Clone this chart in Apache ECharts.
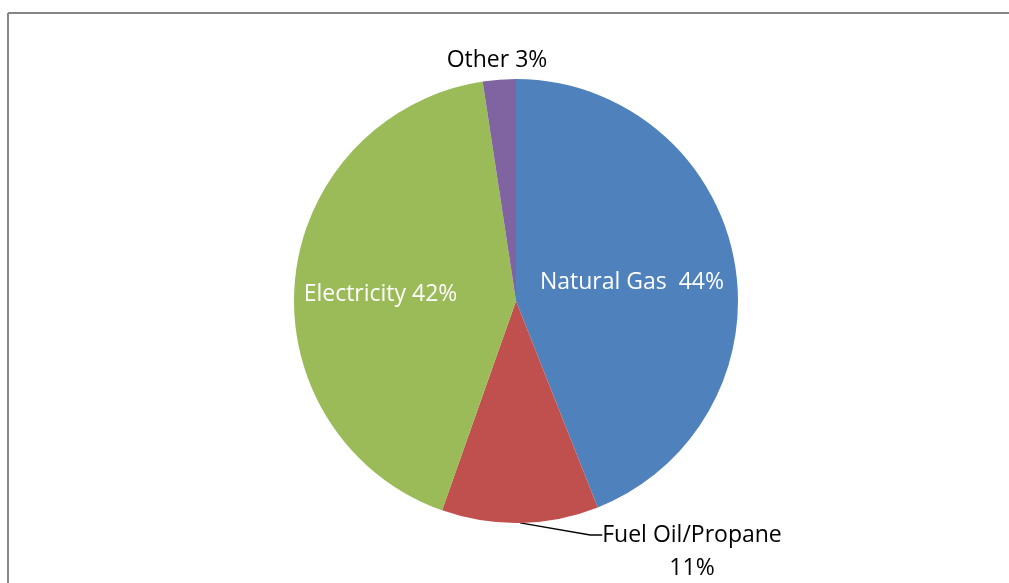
<!DOCTYPE html>
<html>
<head>
<meta charset="utf-8">
<script src="https://cdn.jsdelivr.net/npm/echarts@6/dist/echarts.min.js"></script>
<style>
html, body { margin: 0; padding: 0; background: #fff; }
#chart { width: 1009px; height: 583px; }
</style>
</head>
<body>
<div id="chart"></div>
<script>
// data (slice shares in %, clockwise from 12 o'clock)
const categories = ['Natural Gas', 'Fuel Oil/Propane', 'Electricity', 'Other']
const values = [44.0, 11.4, 42.2, 2.4]
const pctLabels = ['44%', '11%', '42%', '3%']
const colors = ['#4F81BD', '#C0504D', '#9BBB59', '#8064A2']

const font = '"Open Sans", sans-serif'

const chart = echarts.init(document.getElementById('chart'))

const seriesData = categories.map((name, i) => {
  const item = { name: name, value: values[i], itemStyle: { color: colors[i] } }
  if (i === 0 || i === 2) {
    item.label = {
      position: 'inside',
      color: '#fff',
      offset: i === 0 ? [4, 3] : [-22, 4]
    }
    item.labelLine = { show: false }
  } else if (i === 3) {
    item.labelLine = { show: false }
  }
  return item
})

chart.setOption({
  animation: false,
  graphic: [
    { type: 'line', shape: { x1: 8, y1: 13, x2: 1009, y2: 13 }, style: { stroke: '#868686', lineWidth: 2 } },
    { type: 'line', shape: { x1: 8, y1: 13, x2: 8, y2: 583 }, style: { stroke: '#868686', lineWidth: 2 } }
  ],
  series: [{
    type: 'pie',
    center: [516, 301],
    radius: 222,
    startAngle: 90,
    clockwise: true,
    avoidLabelOverlap: false,
    emphasis: { disabled: true },
    label: {
      show: true,
      position: 'outside',
      fontFamily: font,
      fontSize: 23,
      color: '#000',
      lineHeight: 33,
      formatter: (p) => {
        const pct = pctLabels[p.dataIndex]
        if (p.dataIndex === 0) return p.name + '  ' + pct
        // blank first line keeps the leader line level with the name
        if (p.dataIndex === 1) return '\n' + p.name + '\n' + pct
        return p.name + ' ' + pct
      }
    },
    labelLine: {
      show: true,
      length: 15,
      length2: 12,
      lineStyle: { color: '#000', width: 1.3 }
    },
    labelLayout: (params) => {
      if (params.dataIndex === 1) {
        return { x: 692, y: 535, align: 'center', verticalAlign: 'middle' }
      }
      if (params.dataIndex === 3) {
        return { x: 497, y: 60, align: 'center', verticalAlign: 'middle' }
      }
    },
    data: seriesData
  }]
})
</script>
</body>
</html>
